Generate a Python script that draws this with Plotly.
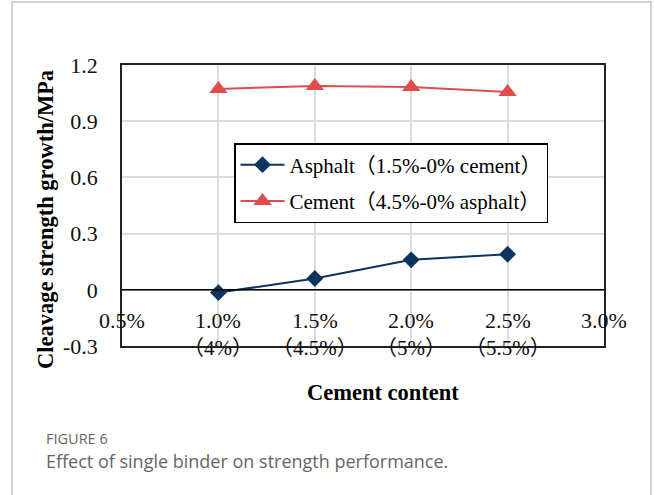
import plotly.graph_objects as go

# ---- data ----
cement_content = [1.0, 1.5, 2.0, 2.5]
asphalt_growth = [-0.015, 0.06, 0.16, 0.19]
cement_growth = [1.072, 1.088, 1.083, 1.056]

x_tick_vals = [0.5, 1.0, 1.5, 2.0, 2.5, 3.0]
x_tick_main = ["0.5%", "1.0%", "1.5%", "2.0%", "2.5%", "3.0%"]
x_tick_sub = ["", "（4%）", "（4.5%）", "（5%）", "（5.5%）", ""]
y_tick_vals = [-0.3, 0, 0.3, 0.6, 0.9, 1.2]
y_tick_text = ["-0.3", "0", "0.3", "0.6", "0.9", "1.2"]

serif = "Liberation Serif, Times New Roman, Noto Sans CJK SC, serif"
W, H = 654, 495
L, R, T, B = 122, 50, 65, 149
pw, ph = W - L - R, H - T - B

def px_x(p):
    return (p - L) / pw

def px_y(p):
    return (H - B - p) / ph

fig = go.Figure()
fig.add_trace(go.Scatter(
    x=cement_content, y=asphalt_growth, mode="lines+markers",
    name="Asphalt（1.5%-0% cement）", legendgroup="a",
    line=dict(color="#0b3560", width=2),
    marker=dict(symbol="diamond", size=13, color="#0b3560"),
))
fig.add_trace(go.Scatter(
    x=cement_content, y=cement_growth, mode="lines+markers",
    name="Cement（4.5%-0% asphalt）", legendgroup="b",
    line=dict(color="#e04b4b", width=2),
    marker=dict(symbol="triangle-up", size=16, color="#e04b4b"),
))

annotations = []
for v, m, s in zip(x_tick_vals, x_tick_main, x_tick_sub):
    annotations.append(dict(x=v, y=0, xref="x", yref="y", text=m, showarrow=False,
                            yanchor="middle", yshift=-31,
                            font=dict(family=serif, size=22, color="#111")))
    if s:
        annotations.append(dict(x=v, y=0, xref="x", yref="y", text=s, showarrow=False,
                                yanchor="middle", yshift=-58,
                                font=dict(family=serif, size=21, color="#111")))

annotations += [
    dict(x=px_x(383), y=px_y(392), xref="paper", yref="paper", text="<b>Cement content</b>",
         xanchor="center", yanchor="middle",
         showarrow=False, font=dict(family=serif, size=22.5, color="#000")),
    dict(x=px_x(45), y=px_y(220), xref="paper", yref="paper",
         text="<b>Cleavage strength growth/MPa</b>", textangle=-90,
         xanchor="center", yanchor="middle",
         showarrow=False, font=dict(family=serif, size=22.5, color="#000")),
    dict(x=px_x(44), y=px_y(438), xref="paper", yref="paper", text="FIGURE 6",
         xanchor="left", yanchor="middle", showarrow=False,
         font=dict(family="Open Sans, Noto Sans, sans-serif", size=14.5, color="#666")),
    dict(x=px_x(44), y=px_y(461), xref="paper", yref="paper",
         text="Effect of single binder on strength performance.",
         xanchor="left", yanchor="middle", showarrow=False,
         font=dict(family="Open Sans, Noto Sans, sans-serif", size=18, color="#666")),
]

shapes = [
    dict(type="rect", xref="paper", yref="paper",
         x0=px_x(12), x1=px_x(651), y0=px_y(505), y1=px_y(2),
         line=dict(color="#c4c4c4", width=1.5), layer="below"),
    dict(type="line", xref="paper", yref="y", x0=0, x1=1, y0=0, y1=0,
         line=dict(color="#000", width=1.5)),
]

fig.update_layout(
    width=W, height=H,
    margin=dict(l=L, r=R, t=T, b=B),
    paper_bgcolor="white", plot_bgcolor="white",
    showlegend=True,
    legend=dict(x=px_x(234), y=px_y(143), xanchor="left", yanchor="top",
                bgcolor="white", bordercolor="#000", borderwidth=1.5,
                font=dict(family=serif, size=21, color="#000"),
                tracegroupgap=6, itemwidth=44),
    xaxis=dict(range=[0.5, 3.0], tickvals=x_tick_vals, showticklabels=False,
               showgrid=True, gridcolor="#dcdcdc", gridwidth=1.5,
               showline=True, mirror=True, linecolor="#222", linewidth=1.5,
               zeroline=False, ticks=""),
    yaxis=dict(range=[-0.3, 1.2], tickvals=y_tick_vals, ticktext=y_tick_text,
               showgrid=True, gridcolor="#dcdcdc", gridwidth=1.5,
               showline=True, mirror=True, linecolor="#222", linewidth=1.5,
               zeroline=False, ticks="", ticklabelstandoff=18,
               tickfont=dict(family=serif, size=22, color="#111")),
    annotations=annotations,
    shapes=shapes,
)

fig.write_html("out.html", config={"displayModeBar": False},
               post_script="document.body.style.margin='0';")
